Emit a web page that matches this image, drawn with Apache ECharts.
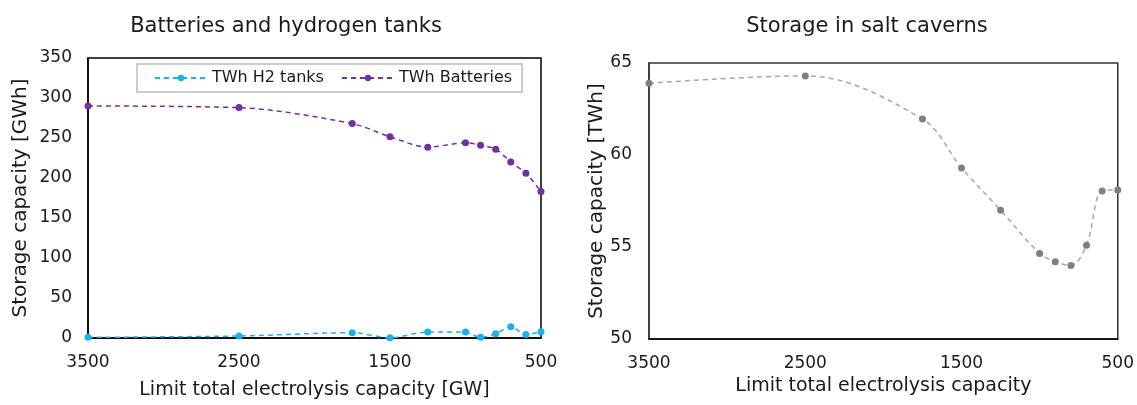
<!DOCTYPE html>
<html>
<head>
<meta charset="utf-8">
<script src="https://cdn.jsdelivr.net/npm/echarts@6/dist/echarts.min.js"></script>
<style>
  html, body { margin: 0; padding: 0; background: #fff; }
  #chart { width: 1137px; height: 405px; }
</style>
</head>
<body>
<div id="chart"></div>
<script>
// Electrolysis capacity limits [GW] (shared by both panels)
const limits = [3500, 2500, 1750, 1500, 1250, 1000, 900, 800, 700, 600, 500];
// Left panel: storage capacity [GWh]
const h2Tanks   = [0.8, 2.5, 6.6, 0.4, 7.4, 7.4, 0.8, 5.3, 14, 4.5, 7.8];
const batteries = [290, 288, 268, 251.5, 238.5, 244, 241, 236, 220, 206, 183];
// Right panel: salt cavern storage [TWh]
const saltCaverns = [63.9, 64.3, 61.95, 59.3, 57.0, 54.65, 54.2, 54.0, 55.1, 58.05, 58.1];

const xTicks = [3500, 2500, 1500, 500];

const FONT = 'DejaVu Sans';
const TXT = '#1a1a1a';

const pairs = (ys) => limits.map((x, i) => [x, ys[i]]);

const chart = echarts.init(document.getElementById('chart'), null, { renderer: 'canvas' });

const xAxisBase = (gridIndex, name, gap) => ({
  gridIndex,
  type: 'value',
  inverse: true,
  min: 500,
  max: 3500,
  interval: 1000,
  name,
  nameLocation: 'middle',
  nameGap: gap,
  nameTextStyle: { fontFamily: FONT, fontSize: 19, color: TXT },
  axisLine: { show: true, lineStyle: { color: '#000', width: 1.5 } },
  axisTick: { show: false },
  splitLine: { show: false },
  axisLabel: {
    fontFamily: FONT, fontSize: 17, color: TXT, margin: 16,
    formatter: (v) => xTicks.includes(v) ? String(v) : ''
  }
});

chart.setOption({
  animation: false,
  title: [
    { text: 'Batteries and hydrogen tanks', left: 281, top: 11, textAlign: 'center',
      textStyle: { fontFamily: FONT, fontSize: 21, fontWeight: 'normal', color: TXT } },
    { text: 'Storage in salt caverns', left: 862, top: 11, textAlign: 'center',
      textStyle: { fontFamily: FONT, fontSize: 21, fontWeight: 'normal', color: TXT } }
  ],
  legend: {
    left: 137, top: 64,
    padding: [6, 10, 6, 17],
    itemGap: 17,
    itemWidth: 52,
    itemHeight: 8,
    backgroundColor: '#fff',
    borderColor: '#bdbdbd',
    borderWidth: 1.5,
    textStyle: { fontFamily: FONT, fontSize: 16, color: TXT },
    data: ['TWh H2 tanks', 'TWh Batteries']
  },
  grid: [
    { left: 88, top: 58, right: 596, bottom: 63, show: true, borderColor: '#000', borderWidth: 1.5, backgroundColor: 'transparent' },
    { left: 649, top: 63, right: 17, bottom: 66, show: true, borderColor: '#333', borderWidth: 1.5, backgroundColor: 'transparent' }
  ],
  xAxis: [
    xAxisBase(0, 'Limit total electrolysis capacity [GW]', 43),
    xAxisBase(1, 'Limit total electrolysis capacity', 37)
  ],
  yAxis: [
    {
      gridIndex: 0, type: 'value', min: 0, max: 350, interval: 50,
      name: 'Storage capacity [GWh]', nameLocation: 'middle', nameGap: 57,
      nameTextStyle: { fontFamily: FONT, fontSize: 20, color: TXT },
      axisLine: { show: true, lineStyle: { color: '#000', width: 1.5 } },
      axisTick: { show: false }, splitLine: { show: false },
      axisLabel: { fontFamily: FONT, fontSize: 17, color: TXT, margin: 16 }
    },
    {
      gridIndex: 1, type: 'value', min: 50, max: 65, interval: 5,
      name: 'Storage capacity [TWh]', nameLocation: 'middle', nameGap: 41,
      nameTextStyle: { fontFamily: FONT, fontSize: 20, color: TXT },
      axisLine: { show: true, lineStyle: { color: '#333', width: 1.5 } },
      axisTick: { show: false }, splitLine: { show: false },
      axisLabel: { fontFamily: FONT, fontSize: 17, color: TXT, margin: 17 }
    }
  ],
  series: [
    {
      name: 'TWh H2 tanks', type: 'line', xAxisIndex: 0, yAxisIndex: 0,
      data: pairs(h2Tanks), smooth: 0.3,
      symbol: 'circle', symbolSize: 7,
      lineStyle: { color: '#1cb0ea', width: 1.5, type: [5, 4] },
      itemStyle: { color: '#1cb0ea' }, z: 3
    },
    {
      name: 'TWh Batteries', type: 'line', xAxisIndex: 0, yAxisIndex: 0,
      data: pairs(batteries), smooth: 0.3,
      symbol: 'circle', symbolSize: 7,
      lineStyle: { color: '#7030a0', width: 1.5, type: [5, 4] },
      itemStyle: { color: '#7030a0' }, z: 3
    },
    {
      name: 'Salt caverns', type: 'line', xAxisIndex: 1, yAxisIndex: 1,
      data: pairs(saltCaverns), smooth: 0.35,
      symbol: 'circle', symbolSize: 7,
      lineStyle: { color: '#a6a6a6', width: 1.5, type: [5, 4] },
      itemStyle: { color: '#7f7f7f' }
    }
  ]
});
</script>
</body>
</html>
